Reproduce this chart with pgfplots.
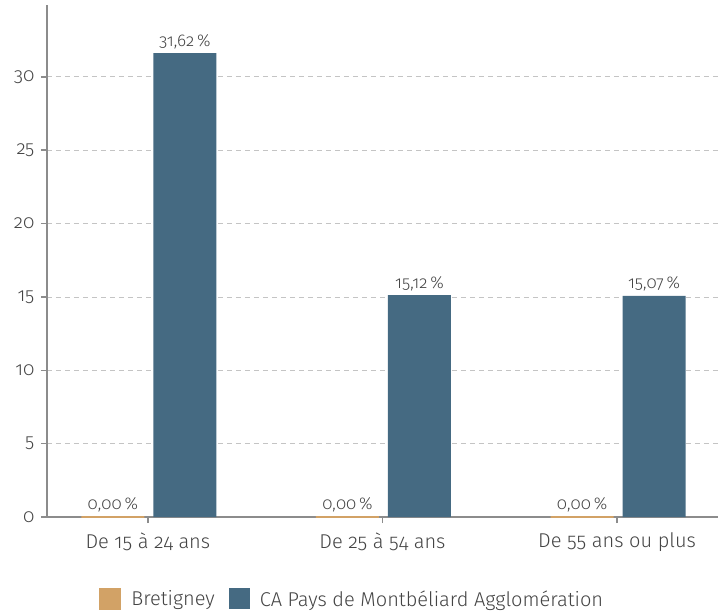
\documentclass[border=0pt]{standalone}
\usepackage{fontspec}
\setmainfont{Fira Sans Light}[Numbers=OldStyle]
\usepackage{pgfplots}
\pgfplotsset{compat=1.18}
\definecolor{cTan}{HTML}{D2A266}
\definecolor{cBlue}{HTML}{456A82}
\definecolor{cAxis}{HTML}{8C8C8C}
\definecolor{cGrid}{HTML}{C4C4C4}
\definecolor{cText}{HTML}{444444}
\begin{document}
\begin{tikzpicture}
\begin{axis}[
  scale only axis,
  width=671pt, height=512pt,
  xmin=-0.43, xmax=2.43,
  ymin=0, ymax=34.9,
  /pgf/number format/assume math mode=true,
  xtick={0,1,2},
  xticklabels={De 15 à 24 ans, De 25 à 54 ans, De 55 ans ou plus},
  ytick={0,5,10,15,20,25,30},
  axis x line*=bottom,
  axis y line*=left,
  axis line style={draw=cAxis, line width=2.2pt},
  x axis line style={line width=1.5pt, -},
  y axis line style={-},
  tick style={draw=cAxis, line width=1.5pt},
  tick align=outside,
  major tick length=6pt,
  ymajorgrids,
  grid style={draw=cGrid, dash pattern=on 5pt off 4pt, line width=0.8pt},
  ticklabel style={text=cText},
  xticklabel style={font=\fontsize{20}{22}\selectfont, yshift=-6pt},
  yticklabel style={font=\fontsize{19}{21}\selectfont, xshift=-3pt},
  ybar, bar width=63pt,
  nodes near coords={\pgfmathprintnumber[fixed,fixed zerofill,precision=2,use comma]{\pgfplotspointmeta}\,\%},
  every node near coord/.append style={font=\fontsize{17}{19}\selectfont, text=cText, yshift=1pt},
  legend style={at={(0.4545,-0.16)}, anchor=center, draw=none, legend columns=-1,
    font=\fontsize{20}{22}\selectfont, text=cText,
    /tikz/every odd column/.append style={column sep=8pt},
    /tikz/every even column/.append style={column sep=12pt}},
  legend image code/.code={\fill[#1] (0pt,-10.5pt) rectangle (21pt,10.5pt);},
  clip=false,
]
\addplot[fill=cTan, draw=cTan, line width=1.5pt, bar shift=-35pt] coordinates {(0,0) (1,0) (2,0)};
\addplot[fill=cBlue, draw=none, bar shift=37pt] coordinates {(0,31.62) (1,15.12) (2,15.07)};
\legend{Bretigney, CA Pays de Montbéliard Agglomération}
\path[use as bounding box] (axis description cs:-0.070,-0.1855) rectangle (axis description cs:1.003,1.0098);
\end{axis}
\end{tikzpicture}
\end{document}
